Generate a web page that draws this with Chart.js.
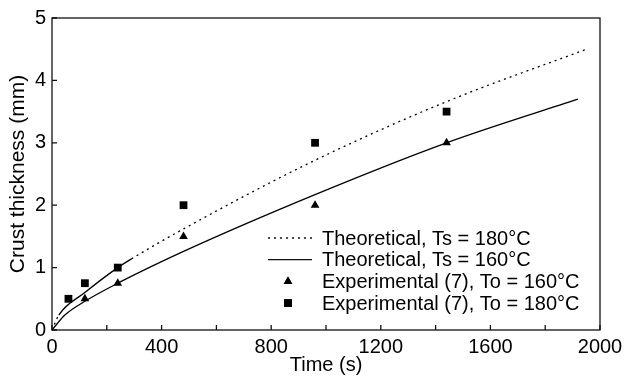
<!DOCTYPE html>
<html>
<head>
<meta charset="utf-8">
<script src="https://cdn.jsdelivr.net/npm/chart.js@4.4.1/dist/chart.umd.min.js"></script>
<style>
  html, body { margin: 0; padding: 0; background: #fff; }
</style>
</head>
<body>
<canvas id="myChart" width="628" height="382"></canvas>
<script>
const seriesLabels = [
    'Theoretical, Ts = 180°C',
    'Theoretical, Ts = 160°C',
    'Experimental (7), To = 160°C',
    'Experimental (7), To = 180°C'
]

// theoretical curves (time s, thickness mm)
const theo180T = [0, 25, 120, 240, 290, 480, 960, 1440, 1957]
const theo180Y = [0, 0.24, 0.6, 1.0, 1.14, 1.62, 2.72, 3.66, 4.51]
const theo160T = [0, 47, 120, 240, 480, 960, 1440, 1919]
const theo160Y = [0, 0.24, 0.46, 0.75, 1.26, 2.17, 3.0, 3.70]

// experimental points
const exp160T = [120, 240, 480, 960, 1440]
const exp160Y = [0.5, 0.75, 1.5, 2.0, 3.0]
const exp180T = [60, 120, 240, 480, 960, 1440]
const exp180Y = [0.5, 0.75, 1.0, 2.0, 3.0, 3.5]

const xTickLabels = [0, 400, 800, 1200, 1600, 2000]
const yTickLabels = [0, 1, 2, 3, 4, 5]

const pts = (xs, ys) => xs.map((x, i) => ({ x: x, y: ys[i] }))
const fontFamily = '"Liberation Sans", Arial, Helvetica, sans-serif'
const dotted = [2, 4]

// box, inward ticks and legend inside the plot
const frame = {
    id: 'frame',
    afterDraw(chart) {
        const { ctx, chartArea: a, scales: { x, y } } = chart
        ctx.save()
        ctx.strokeStyle = '#111'
        ctx.lineWidth = 1.3
        ctx.strokeRect(a.left, a.top, a.width, a.height)
        ctx.beginPath()
        x.ticks.forEach(t => {
            const px = x.getPixelForValue(t.value)
            ctx.moveTo(px, a.bottom)
            ctx.lineTo(px, a.bottom - 5)
        })
        y.ticks.forEach(t => {
            const py = y.getPixelForValue(t.value)
            ctx.moveTo(a.left, py)
            ctx.lineTo(a.left + 5, py)
        })
        ctx.stroke()

        // legend
        const lx = a.left + 216
        const ty = a.top + 220
        const gap = 21.7
        ctx.font = '20px ' + fontFamily
        ctx.fillStyle = '#000'
        ctx.textBaseline = 'middle'
        chart.data.datasets.forEach((ds, i) => {
            const yy = ty + i * gap
            if (ds.showLine) {
                ctx.beginPath()
                ctx.lineWidth = 1.3
                ctx.setLineDash(ds.legendDash || [])
                ctx.moveTo(lx, yy)
                ctx.lineTo(lx + 44, yy)
                ctx.stroke()
                ctx.setLineDash([])
            } else {
                Chart.helpers.drawPoint(ctx, {
                    pointStyle: ds.pointStyle,
                    radius: ds.pointRadius,
                    rotation: 0,
                    borderWidth: 0
                }, lx + 20, yy)
                ctx.fillStyle = '#000'
                ctx.fill()
            }
            ctx.fillText(ds.label, lx + 54, yy + 1)
        })
        ctx.restore()
    }
}

const ctx = document.getElementById('myChart').getContext('2d')

const myChart = new Chart(ctx, {
    type: 'scatter',
    data: {
        datasets: [
            {
                label: seriesLabels[0],
                data: pts(theo180T, theo180Y),
                showLine: true,
                borderColor: '#000',
                borderWidth: 1.3,
                pointRadius: 0,
                cubicInterpolationMode: 'monotone',
                legendDash: dotted,
                segment: {
                    // solid near the start, dotted elsewhere
                    borderDash: c => (c.p0.parsed.x >= 25 && c.p1.parsed.x <= 290) ? [] : dotted
                }
            },
            {
                label: seriesLabels[1],
                data: pts(theo160T, theo160Y),
                showLine: true,
                borderColor: '#000',
                borderWidth: 1.3,
                pointRadius: 0,
                cubicInterpolationMode: 'monotone'
            },
            {
                label: seriesLabels[2],
                data: pts(exp160T, exp160Y),
                showLine: false,
                pointStyle: 'triangle',
                pointRadius: 5,
                backgroundColor: '#000',
                borderColor: '#000',
                borderWidth: 0
            },
            {
                label: seriesLabels[3],
                data: pts(exp180T, exp180Y),
                showLine: false,
                pointStyle: 'rect',
                pointRadius: 5.5,
                backgroundColor: '#000',
                borderColor: '#000',
                borderWidth: 0
            }
        ]
    },
    options: {
        responsive: false,
        animation: false,
        devicePixelRatio: 1,
        layout: {
            padding: { top: 15, right: 28, left: 0, bottom: 0 }
        },
        scales: {
            x: {
                type: 'linear',
                min: 0,
                max: 2000,
                afterFit: s => { s.height = 52 },
                ticks: {
                    stepSize: 200,
                    autoSkip: false,
                    maxRotation: 0,
                    padding: 5,
                    color: '#000',
                    font: { family: fontFamily, size: 20 },
                    callback: v => xTickLabels.includes(v) ? v : ''
                },
                grid: { drawOnChartArea: false, drawTicks: false },
                border: { display: false },
                title: {
                    display: true,
                    text: 'Time (s)',
                    color: '#000',
                    font: { family: fontFamily, size: 20 },
                    padding: { top: 0, bottom: 5 }
                }
            },
            y: {
                min: 0,
                max: 5,
                afterFit: s => { s.width = 52 },
                ticks: {
                    stepSize: 1,
                    padding: 6,
                    color: '#000',
                    font: { family: fontFamily, size: 20 },
                    callback: v => yTickLabels.includes(v) ? v : ''
                },
                grid: { drawOnChartArea: false, drawTicks: false },
                border: { display: false },
                title: {
                    display: true,
                    text: 'Crust thickness (mm)',
                    color: '#000',
                    font: { family: fontFamily, size: 21 },
                    padding: { top: 6, bottom: 0 }
                }
            }
        },
        plugins: {
            legend: { display: false },
            tooltip: { enabled: false }
        }
    },
    plugins: [frame]
})
</script>
</body>
</html>
